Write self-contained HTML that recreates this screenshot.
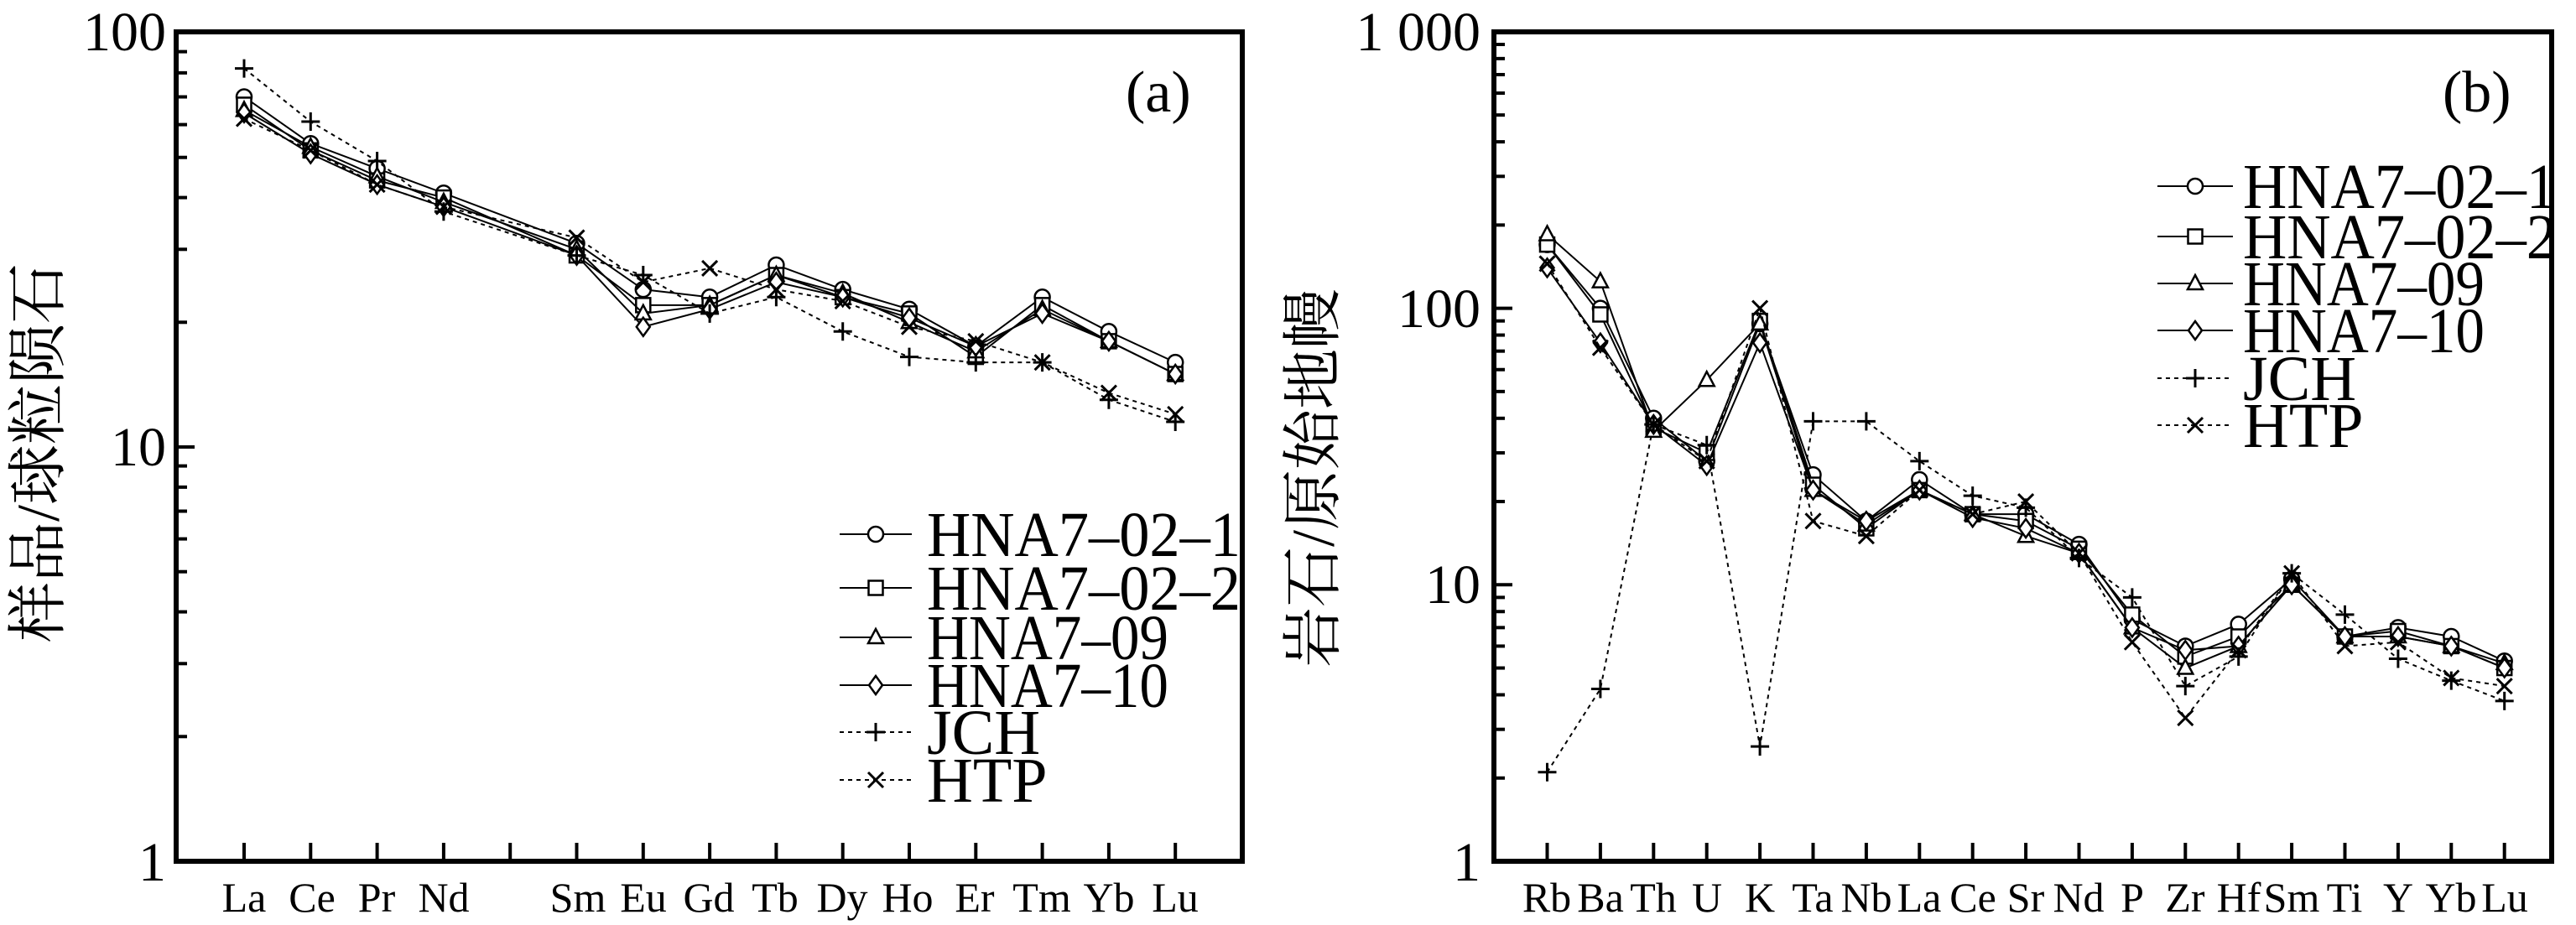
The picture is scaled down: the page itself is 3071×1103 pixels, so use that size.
<!DOCTYPE html>
<html><head><meta charset="utf-8"><style>
html,body{margin:0;padding:0;background:#fff;}
svg{display:block;}
text{font-family:"Liberation Serif","Noto Serif CJK SC",serif;fill:#000;}
</style></head><body>
<svg id="s" width="3071" height="1103" viewBox="0 0 3071 1103" xmlns="http://www.w3.org/2000/svg">
<defs>
<g id="m0"><circle r="9" fill="#fff" stroke="#000" stroke-width="2.5"/></g>
<g id="m1"><rect x="-8.5" y="-8.5" width="17" height="17" fill="#fff" stroke="#000" stroke-width="2.5"/></g>
<g id="m2"><path d="M0,-10 L9,7 L-9,7 Z" fill="#fff" stroke="#000" stroke-width="2.5"/></g>
<g id="m3"><path d="M0,-11 L8,0 L0,11 L-8,0 Z" fill="#fff" stroke="#000" stroke-width="2.5"/></g>
<g id="m4"><path d="M-11,0 H11 M0,-11 V11" stroke="#000" stroke-width="3"/></g>
<g id="m5"><path d="M-9,-9 L9,9 M-9,9 L9,-9" stroke="#000" stroke-width="3"/></g>
</defs>
<rect x="210" y="38" width="1271" height="989" fill="none" stroke="#000" stroke-width="6"/>
<rect x="1781" y="38" width="1261" height="989" fill="none" stroke="#000" stroke-width="6"/>
<g id="ticks" stroke="#000" stroke-width="4"></g>
<g id="series"></g>
<g font-size="66" text-anchor="end">
<text x="198" y="60">100</text>
<text x="198" y="555">10</text>
<text x="198" y="1050">1</text>
<text x="1765" y="60">1 000</text>
<text x="1765" y="390">100</text>
<text x="1765" y="719">10</text>
<text x="1765" y="1050">1</text>
</g>
<g font-size="70">
<text x="1342" y="133">(a)</text>
<text x="2912" y="133">(b)</text>
</g>
<text transform="translate(70,540) rotate(-90)" font-size="72" text-anchor="middle" font-family="Noto Serif CJK SC,serif">样品/球粒陨石</text>
<text transform="translate(1590,570) rotate(-90)" font-size="72" text-anchor="middle" font-family="Noto Serif CJK SC,serif">岩石/原始地幔</text>
<g font-size="50" text-anchor="middle">
<text x="291" y="1087">La</text><text x="372" y="1087">Ce</text><text x="449" y="1087">Pr</text><text x="529" y="1087">Nd</text>
<text x="689" y="1087">Sm</text><text x="767" y="1087">Eu</text><text x="845" y="1087">Gd</text><text x="924" y="1087">Tb</text>
<text x="1004" y="1087">Dy</text><text x="1082" y="1087">Ho</text><text x="1162" y="1087">Er</text><text x="1242" y="1087">Tm</text>
<text x="1322" y="1087">Yb</text><text x="1401" y="1087">Lu</text>
<text x="1844" y="1087">Rb</text><text x="1908" y="1087">Ba</text><text x="1971" y="1087">Th</text><text x="2035" y="1087">U</text>
<text x="2098" y="1087">K</text><text x="2161" y="1087">Ta</text><text x="2225" y="1087">Nb</text><text x="2288" y="1087">La</text>
<text x="2352" y="1087">Ce</text><text x="2415" y="1087">Sr</text><text x="2478" y="1087">Nd</text><text x="2542" y="1087">P</text>
<text x="2605" y="1087">Zr</text><text x="2669" y="1087">Hf</text><text x="2732" y="1087">Sm</text><text x="2795" y="1087">Ti</text>
<text x="2859" y="1087">Y</text><text x="2922" y="1087">Yb</text><text x="2986" y="1087">Lu</text>
</g>
<g font-size="76">
<text x="1105" y="663" textLength="374" lengthAdjust="spacingAndGlyphs">HNA7–02–1</text>
<text x="1105" y="727" textLength="374" lengthAdjust="spacingAndGlyphs">HNA7–02–2</text>
<text x="1105" y="786" textLength="288" lengthAdjust="spacingAndGlyphs">HNA7–09</text>
<text x="1105" y="843" textLength="288" lengthAdjust="spacingAndGlyphs">HNA7–10</text>
<text x="1105" y="899">JCH</text>
<text x="1105" y="956">HTP</text>
<text x="2674" y="248" textLength="374" lengthAdjust="spacingAndGlyphs">HNA7–02–1</text>
<text x="2674" y="308" textLength="374" lengthAdjust="spacingAndGlyphs">HNA7–02–2</text>
<text x="2674" y="364" textLength="288" lengthAdjust="spacingAndGlyphs">HNA7–09</text>
<text x="2674" y="420" textLength="288" lengthAdjust="spacingAndGlyphs">HNA7–10</text>
<text x="2674" y="477">JCH</text>
<text x="2674" y="533">HTP</text>
</g>
</svg>
<script>
var NS="http://www.w3.org/2000/svg";
var tk=document.getElementById("ticks"),sr=document.getElementById("series");
function ln(p,x1,y1,x2,y2,extra){var e=document.createElementNS(NS,"line");e.setAttribute("x1",x1);e.setAttribute("y1",y1);e.setAttribute("x2",x2);e.setAttribute("y2",y2);p.appendChild(e);if(extra)for(var k in extra)e.setAttribute(k,extra[k]);return e;}
function yt(x0,bot,dec,n){for(var d=0;d<n;d++)for(var m=1;m<10;m++){var y=bot-dec*(d+Math.log10(m));ln(tk,x0,y,x0+(m==1?22:13),y);}}
yt(210,1027,494,2);yt(1781,1027,329.7,3);
var LX=[],RX=[];for(var i=0;i<15;i++){LX.push(291+79.3*i);ln(tk,291+79.3*i,1027,291+79.3*i,1005);}
for(var i=0;i<19;i++){RX.push(1844.5+63.4*i);ln(tk,1844.5+63.4*i,1027,1844.5+63.4*i,1005);}
var L=[[70,54,47,41,null,31,24,23,27.5,24,21.5,17.5,23,19,16],
[67,52,44,40,null,29,22,22,26,23,21,16.5,22,18,15],
[65,53,45,39,null,30,21,22,26,23.5,20,17,21.5,18,15],
[64,51,43,38,null,29,19.5,21.5,25,23,20.5,17.5,21,18,15],
[82,61,49,37,null,29,26,21,23,19,16.5,16,16,13,11.5],
[62,52,43,38,null,32,25,27,24,22.5,19.5,18,16,13.5,12]];
var R=[[170,100,40,28,88,25,17,24,18,18,14,7.5,6,7.2,10.5,6.5,7,6.5,5.3],
[170,95,37,30,90,23,16,22,18,17,13.5,7.8,5.5,6.5,10,6.5,6.8,6,5],
[185,125,36,55,88,22,16.5,22,18,15,13,7,5,6,10,6.5,6.5,6,5.2],
[140,75,38,27,75,22,17,22,17.5,16,13,7,5.8,6,10,6.5,6.5,6,5],
[2.1,4.2,38,32,2.6,39,39,28,21,19,12.5,9,4.3,5.5,11,7.8,5.4,4.5,3.8],
[145,72,38,28,100,17,15,22,18,20,13,6.2,3.3,5.8,11,6,6.2,4.6,4.3]];
function draw(data,X,bot,dec){for(var s=0;s<6;s++){var pts=[];for(var i=0;i<X.length;i++){var v=data[s][i];if(v==null)continue;pts.push([X[i],bot-dec*Math.log10(v)]);}
var pl=document.createElementNS(NS,"polyline");pl.setAttribute("points",pts.map(function(p){return p.join(",")}).join(" "));pl.setAttribute("fill","none");pl.setAttribute("stroke","#000");pl.setAttribute("stroke-width","2");if(s>=4)pl.setAttribute("stroke-dasharray","5,5");sr.appendChild(pl);
pts.forEach(function(p){var u=document.createElementNS(NS,"use");u.setAttribute("href","#m"+s);u.setAttribute("x",p[0]);u.setAttribute("y",p[1]);sr.appendChild(u);});}}
draw(L,LX,1027,494);draw(R,RX,1027,329.7);
function leg(x1,x2,ys){for(var s=0;s<6;s++){var e=ln(sr,x1,ys[s],x2,ys[s],{stroke:"#000","stroke-width":"2"});if(s>=4)e.setAttribute("stroke-dasharray","5,5");var u=document.createElementNS(NS,"use");u.setAttribute("href","#m"+s);u.setAttribute("x",(x1+x2)/2);u.setAttribute("y",ys[s]);sr.appendChild(u);}}
leg(1001,1087,[637,701,760,817,873,930]);leg(2572,2662,[222,282,338,394,451,507]);
</script>
</body></html>
